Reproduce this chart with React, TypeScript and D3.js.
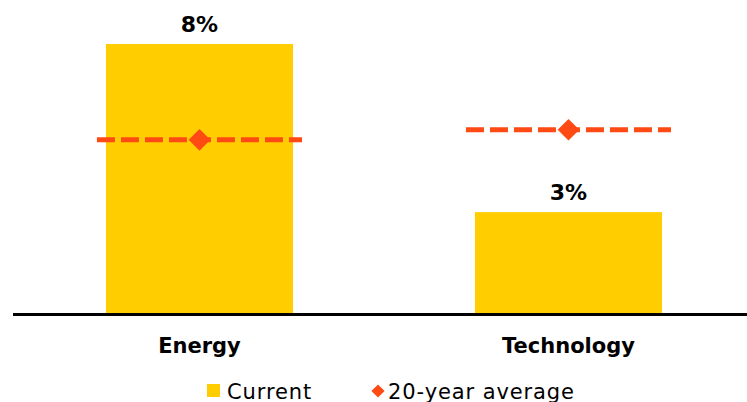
import React from "react";
import * as d3 from "d3";

const categories = ["Energy", "Technology"];
const currentValues = [8, 3];
const averageValues = [5.15, 5.45];
const valueLabels = ["8%", "3%"];
const legendLabels = ["Current", "20-year average"];

const W = 747;
const H = 402;
const BAR = "#ffcd00";
const AVG = "#ff4a14";

export default function App() {
  const x = d3
    .scaleBand<string>()
    .domain(categories)
    .range([15, 753])
    .paddingInner(0.493)
    .paddingOuter(0.2465);
  const y = d3.scaleLinear().domain([0, 8]).range([313, 44]);
  const bw = x.bandwidth();
  const ext = 9;
  const diamond = d3.symbol().type(d3.symbolDiamond2).size(300)();

  return (
    <svg
      width={W}
      height={H}
      style={{ position: "absolute", left: 0, top: 0 }}
      fontFamily="'DejaVu Sans', sans-serif"
    >
      <rect width={W} height={H} fill="#fff" />
      {categories.map((c, i) => (
        <g key={c}>
          <rect
            x={x(c)}
            y={y(currentValues[i])}
            width={bw}
            height={y(0) - y(currentValues[i])}
            fill={BAR}
          />
          <text
            x={x(c)! + bw / 2}
            y={y(currentValues[i]) - 11.7}
            textAnchor="middle"
            fontSize={22}
            fontWeight="bold"
            fill="#000"
          >
            {valueLabels[i]}
          </text>
        </g>
      ))}
      <line x1={13} x2={W} y1={314.5} y2={314.5} stroke="#000" strokeWidth={3} />
      {categories.map((c, i) => (
        <g key={c + "avg"}>
          <line
            x1={x(c)! - ext}
            x2={x(c)! + bw + ext}
            y1={y(averageValues[i])}
            y2={y(averageValues[i])}
            stroke={AVG}
            strokeWidth={5}
            strokeDasharray="18 6"
          />
          <path
            d={diamond!}
            transform={`translate(${x(c)! + bw / 2},${y(averageValues[i])})`}
            fill={AVG}
          />
        </g>
      ))}
      {categories.map((c) => (
        <text
          key={c + "lbl"}
          x={x(c)! + bw / 2}
          y={352.7}
          textAnchor="middle"
          fontSize={21}
          fontWeight="bold"
          fill="#000"
        >
          {c}
        </text>
      ))}
      <g fontSize={21} fill="#000" letterSpacing={0.9}>
        <rect x={207} y={384} width={13} height={13} fill={BAR} />
        <text x={227} y={399}>{legendLabels[0]}</text>
        <path
          d={d3.symbol().type(d3.symbolDiamond2).size(110)()!}
          transform="translate(378,391)"
          fill={AVG}
        />
        <text x={388} y={399}>{legendLabels[1]}</text>
      </g>
    </svg>
  );
}
